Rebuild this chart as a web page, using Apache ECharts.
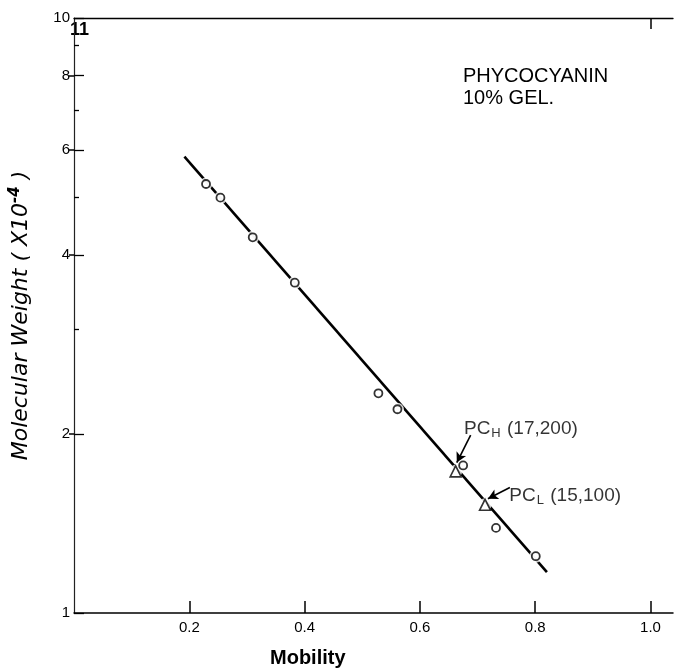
<!DOCTYPE html>
<html><head><meta charset="utf-8">
<script src="https://cdn.jsdelivr.net/npm/echarts@6/dist/echarts.min.js"></script>
<style>html,body{margin:0;padding:0;background:#fff}#c{width:674px;height:668px}</style>
</head><body><div id="c"></div>
<script>
// Measured data (mobility vs molecular weight x10^-4)
const mobility  = [0.229, 0.254, 0.310, 0.383, 0.528, 0.561, 0.675, 0.732, 0.801];
const molWeight = [5.26, 4.99, 4.28, 3.59, 2.34, 2.20, 1.77, 1.39, 1.246];
// Phycocyanin subunits (triangles)
const triMobility = [0.662, 0.713];
const triWeight   = [1.73, 1.52];
const triSub      = ['H', 'L'];
const triMW       = ['17,200', '15,100'];
// Fitted line end points
const fitMobility = [0.1915, 0.8203];
const fitWeight   = [5.85, 1.171];
// Annotation arrows
const arrowFrom = [[0.688, 1.991], [0.756, 1.625]];
const arrowTo   = [[0.664, 1.79], [0.718, 1.556]];
// Ticks
const xTicks  = [0.2, 0.4, 0.6, 0.8, 1.0];
const xTopTicks = [1.0];
const yLabels = [1, 2, 4, 6, 8, 10];
const yMinor  = [3, 5, 7, 9];
const yRight  = [2, 4, 6, 8];

const FONT = 'Liberation Sans';
const chart = echarts.init(document.getElementById('c'), null, {renderer: 'canvas'});

const circleData = mobility.map((m, i) => [m, molWeight[i]]);
const triData = triMobility.map((m, i) => ({
  value: [m, triWeight[i]],
  label: {
    formatter: '{m|PC}{s|' + triSub[i] + '}{m| (' + triMW[i] + ')}',
    offset: i === 0 ? [-1, -43] : [15, -9]
  }
}));
const gapData = circleData.concat(triMobility.map((m, i) => [m, triWeight[i]]));

const option = {
  animation: false,
  backgroundColor: '#fff',
  grid: {left: 66, right: 1, top: 18, bottom: 55, containLabel: false},
  title: {
    text: 'Mobility', left: 270, top: 648, padding: 0,
    textStyle: {fontSize: 20, fontWeight: 'bold', fontFamily: FONT, color: '#000'}
  },
  xAxis: [
    {
      type: 'value', min: 0, max: 1.039, position: 'bottom',
      axisLine: {show: true, onZero: false, lineStyle: {color: '#000', width: 1.5}},
      axisTick: {show: true, inside: true, length: 12, customValues: xTicks, lineStyle: {color: '#000', width: 1.5}},
      axisLabel: {customValues: xTicks, formatter: v => v.toFixed(1), color: '#000', fontSize: 15, fontFamily: FONT, margin: 7},
      splitLine: {show: false}
    },
    {
      type: 'value', min: 0, max: 1.039, position: 'top',
      axisLine: {show: true, onZero: false, lineStyle: {color: '#000', width: 1.3}},
      axisTick: {show: true, inside: true, length: 11, customValues: xTopTicks, lineStyle: {color: '#000', width: 1.5}},
      axisLabel: {show: false},
      splitLine: {show: false}
    }
  ],
  yAxis: [
    {
      type: 'log', logBase: 10, min: 1, max: 10, position: 'left',
      axisLine: {show: true, onZero: false, lineStyle: {color: '#222', width: 1.2}},
      axisTick: {show: true, inside: true, length: 10, customValues: yLabels, lineStyle: {color: '#000', width: 1.3}},
      axisLabel: {customValues: yLabels, color: '#000', fontSize: 15, fontFamily: FONT, margin: 4},
      splitLine: {show: false},
      name: '{i|Molecular Weight ( X10}{sup|-4}{i| )}',
      nameLocation: 'middle', nameGap: 40, nameRotate: 90,
      nameTextStyle: {
        rich: {
          i: {fontSize: 22, fontStyle: 'italic', fontFamily: 'DejaVu Sans', color: '#000'},
          sup: {fontSize: 15, fontStyle: 'italic', fontWeight: 'bold', fontFamily: 'DejaVu Sans', color: '#000', padding: [0, 0, 11, 0]}
        }
      }
    },
    {
      type: 'log', logBase: 10, min: 1, max: 10, position: 'left',
      axisLine: {show: false},
      axisTick: {show: true, inside: true, length: 5, customValues: yMinor, lineStyle: {color: '#000', width: 1.3}},
      axisLabel: {show: false},
      splitLine: {show: false}
    },
    {
      type: 'log', logBase: 10, min: 1, max: 10, position: 'right',
      axisLine: {show: false},
      axisTick: {show: true, inside: true, length: 5, customValues: yRight, lineStyle: {color: '#000', width: 1.5}},
      axisLabel: {show: false},
      splitLine: {show: false}
    }
  ],
  graphic: [
    {type: 'text', left: 70, top: 21, style: {text: '11', font: 'bold 18px "Liberation Sans"', fill: '#000'}},
    {type: 'text', left: 463, top: 66, style: {text: 'PHYCOCYANIN', font: '20px "Liberation Sans"', fill: '#000'}},
    {type: 'text', left: 463, top: 88, style: {text: '10% GEL.', font: '20px "Liberation Sans"', fill: '#000'}}
  ],
  series: [
    {
      type: 'line', xAxisIndex: 0, yAxisIndex: 0, z: 1,
      data: fitMobility.map((m, i) => [m, fitWeight[i]]),
      symbol: 'none', lineStyle: {color: '#000', width: 2.6}, silent: true
    },
    {
      type: 'scatter', z: 2, silent: true,
      data: gapData, symbol: 'circle', symbolSize: 13,
      itemStyle: {color: '#fff', borderWidth: 0}
    },
    {
      type: 'scatter', z: 3, silent: true,
      data: circleData, symbol: 'circle', symbolSize: 8,
      itemStyle: {color: '#fff', borderColor: '#000', borderWidth: 1.8}
    },
    {
      type: 'scatter', z: 4, silent: true,
      data: triData, symbol: 'triangle', symbolSize: 11,
      itemStyle: {color: '#fff', borderColor: '#000', borderWidth: 1.6},
      label: {
        show: true, position: 'right', distance: 3,
        rich: {
          m: {fontSize: 19, fontFamily: FONT, color: '#000'},
          s: {fontSize: 13, fontFamily: FONT, color: '#000', padding: [10, 1, 0, 1]}
        }
      },
      markLine: {
        silent: true, symbol: ['none', 'arrow'], symbolSize: [8, 10],
        label: {show: false},
        lineStyle: {color: '#000', width: 1.6, type: 'solid'},
        data: arrowFrom.map((f, i) => [{coord: f}, {coord: arrowTo[i]}])
      }
    }
  ]
};
chart.setOption(option);
</script>
</body></html>
